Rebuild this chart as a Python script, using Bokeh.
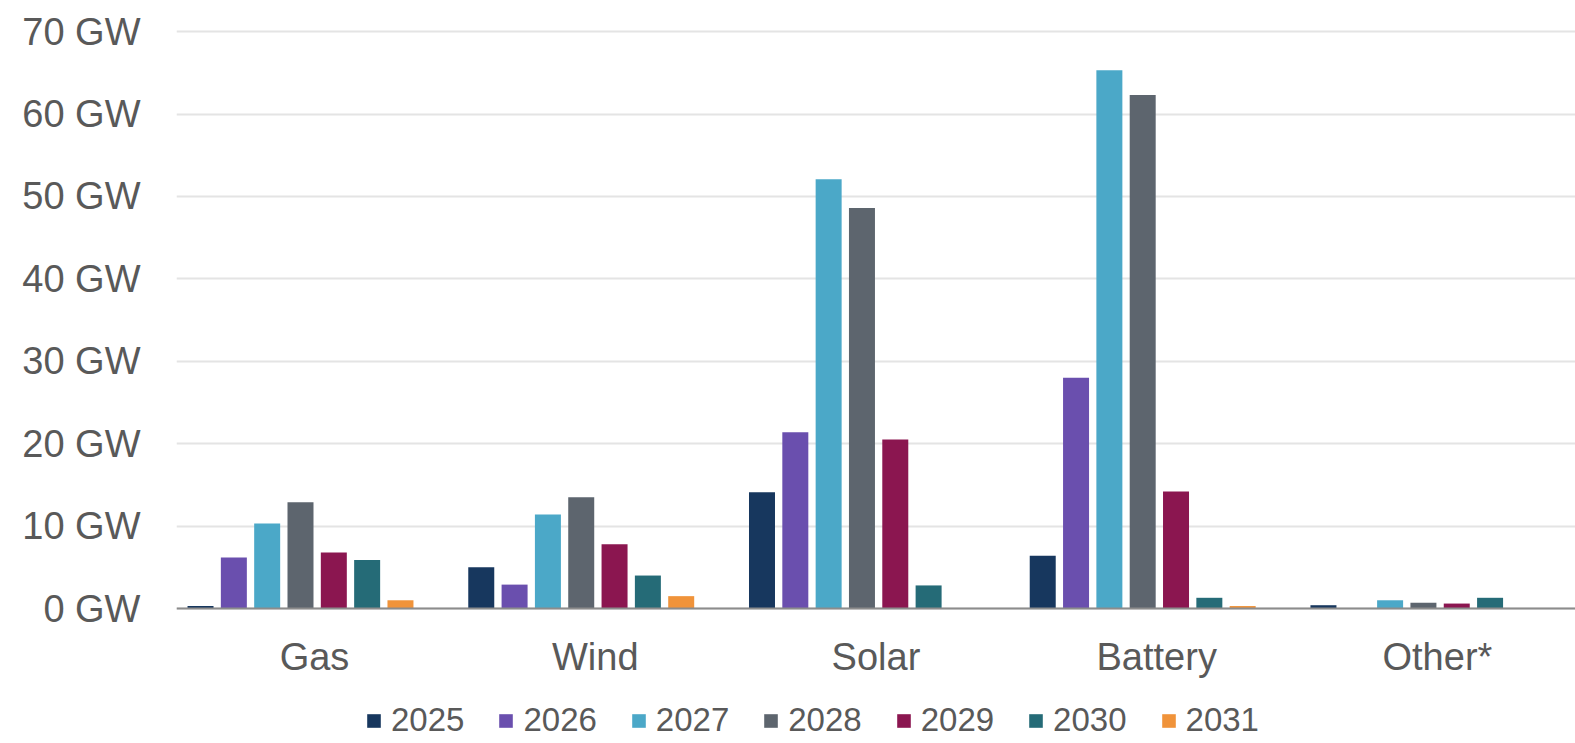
import numpy as np
from bokeh.plotting import figure
from bokeh.models import (ColumnDataSource, Range1d, FixedTicker, PrintfTickFormatter,
                          Span, LabelSet)
from bokeh.core.properties import value
from bokeh.transform import dodge
from bokeh.embed import file_html
from bokeh.resources import INLINE

categories = ["Gas", "Wind", "Solar", "Battery", "Other*"]
years = ["2025", "2026", "2027", "2028", "2029", "2030", "2031"]
v2025 = [0.3, 5.0, 14.1, 6.4, 0.4]
v2026 = [6.2, 2.9, 21.4, 28.0, 0.0]
v2027 = [10.3, 11.4, 52.1, 65.3, 1.0]
v2028 = [12.9, 13.5, 48.6, 62.3, 0.7]
v2029 = [6.8, 7.8, 20.5, 14.2, 0.6]
v2030 = [5.9, 4.0, 2.8, 1.3, 1.3]
v2031 = [1.0, 1.5, 0.0, 0.3, 0.0]
series = [v2025, v2026, v2027, v2028, v2029, v2030, v2031]
colors = ["#17375e", "#6a4fae", "#4ba8c8", "#5d656e", "#8b1650", "#256b77", "#f0933a"]
y_ticks = [0, 10, 20, 30, 40, 50, 60, 70]

FONT = "Liberation Sans"
TXT = "#595959"

data = {"x": list(range(len(categories))), "cat": categories, "base": [0] * len(categories)}
for y, s in zip(years, series):
    data["y" + y] = s
src = ColumnDataSource(data)

# frame spans the lower margin too, so the legend can sit inside it
p = figure(width=1575, height=743, output_backend="svg", toolbar_location=None,
           x_range=Range1d(-0.4417, 4.5417), y_range=Range1d(-16.38, 70.5),
           min_border_left=176, min_border_right=0, min_border_top=27, min_border_bottom=0)
p.outline_line_color = None
p.background_fill_color = "white"
p.border_fill_color = "white"

p.ygrid.grid_line_color = "#e4e4e4"
p.ygrid.grid_line_width = 2
p.xgrid.grid_line_color = None

pitch = 0.1187
bw = 0.0926
for j, (y, c) in enumerate(zip(years, colors)):
    p.vbar(x=dodge("x", (j - 3) * pitch, range=p.x_range), top="y" + y, width=bw,
           source=src, fill_color=c, line_color=None, legend_label=y)

# baseline
p.add_layout(Span(location=0, dimension="width", line_color="#8c8c8c", line_width=2))

# y axis
p.yaxis.ticker = FixedTicker(ticks=y_ticks)
p.yaxis.formatter = PrintfTickFormatter(format="%d GW")
p.yaxis.axis_line_color = None
p.yaxis.major_tick_line_color = None
p.yaxis.minor_tick_line_color = None
p.yaxis.major_label_standoff = 30
p.yaxis.major_label_text_font = FONT
p.yaxis.major_label_text_font_size = "38px"
p.yaxis.major_label_text_color = TXT

# category labels
p.xaxis.visible = False
p.add_layout(LabelSet(x="x", y="base", text="cat", source=src, x_offset=14, y_offset=-48,
                      text_align="center", text_baseline="middle", text_font=value(FONT),
                      text_font_size=value("38px"), text_color=TXT))

lg = p.legend[0]
lg.orientation = "horizontal"
lg.location = (189, 4)
lg.border_line_color = None
lg.background_fill_alpha = 0
lg.padding = 0
lg.margin = 0
lg.spacing = 33
lg.glyph_width = 17
lg.glyph_height = 17
lg.label_standoff = 9
lg.label_text_font = FONT
lg.label_text_font_size = "33px"
lg.label_text_color = TXT

open("out.html", "w").write(file_html(p, INLINE))
